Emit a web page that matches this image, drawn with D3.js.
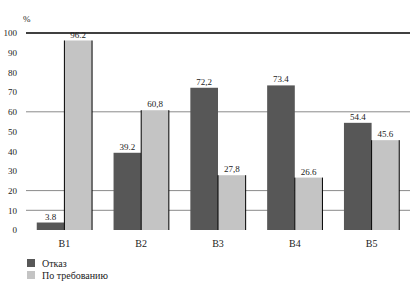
<!DOCTYPE html>
<html>
<head>
<meta charset="utf-8">
<script src="https://cdn.jsdelivr.net/npm/d3@7"></script>
<style>
	body { margin: 0; background: #fff; }
</style>
</head>
<body>
<svg id="chart" width="420" height="294"></svg>
<script>
//chart data
var categories = ["B1","B2","B3","B4","B5"];
var seriesNames = ["Отказ","По требованию"];
var refusal = [3.8,39.2,72.2,73.4,54.4];
var onDemand = [96.2,60.8,27.8,26.6,45.6];
var refusalLabels = ["3.8","39.2","72,2","73.4","54.4"];
var onDemandLabels = ["96.2","60,8","27,8","26.6","45.6"];
var yTicks = [0,10,20,30,40,50,60,70,80,90,100];
var gridValues = [10,20,60];

var colors = ["#575757","#c4c4c4"];
var FONT = "Liberation Serif";

var svg = d3.select("#chart");
var margin = {left: 26, right: 10, top: 33, bottom: 64};
var width = 420 - margin.left - margin.right;
var height = 294 - margin.top - margin.bottom;

var g = svg.append("g").attr("transform","translate("+margin.left+","+margin.top+")");

var x = d3.scaleBand().domain(categories).range([0,width]).paddingInner(0).paddingOuter(0);
var x1 = d3.scaleBand().domain([0,1]).range([x.bandwidth()*0.14,x.bandwidth()*0.86]).padding(0);
var y = d3.scaleLinear().domain([0,100]).range([height,0]);

//grid lines
g.selectAll("line.grid")
	.data(gridValues)
	.enter().append("line")
	.attr("class","grid")
	.attr("x1",0).attr("x2",width)
	.attr("y1",function(d) {return y(d);})
	.attr("y2",function(d) {return y(d);})
	.attr("stroke","#8a8a8a").attr("stroke-width",1);

g.append("line")
	.attr("x1",0).attr("x2",width)
	.attr("y1",y(100)).attr("y2",y(100))
	.attr("stroke","#000").attr("stroke-width",1.5);

//y axis labels
var yAxis = d3.axisLeft(y).tickValues(yTicks).tickSize(0).tickPadding(9);
g.append("g").call(yAxis)
	.attr("font-family",FONT)
	.attr("font-size",9)
	.call(function(s) {s.select(".domain").remove();})
	.selectAll("text")
	.attr("fill","#222");

g.append("text").attr("x",-3).attr("y",-11)
	.attr("font-family",FONT).attr("font-size",9).attr("fill","#222").text("%");

//x axis labels
var xAxis = d3.axisBottom(x).tickSize(0).tickPadding(10);
g.append("g").attr("transform","translate(0,"+height+")").call(xAxis)
	.attr("font-family",FONT)
	.attr("font-size",10)
	.call(function(s) {s.select(".domain").remove();})
	.selectAll("text")
	.attr("fill","#222");

//bars
var rows = categories.map(function(c,i) {
	return {cat: c, vals: [refusal[i],onDemand[i]], labels: [refusalLabels[i],onDemandLabels[i]]};
});

var groups = g.selectAll("g.grp").data(rows).enter().append("g")
	.attr("class","grp")
	.attr("transform",function(d) {return "translate("+x(d.cat)+",0)";});

groups.selectAll("rect")
	.data(function(d) {return d.vals;})
	.enter().append("rect")
	.attr("x",function(d,i) {return x1(i);})
	.attr("y",function(d) {return y(d);})
	.attr("width",x1.bandwidth())
	.attr("height",function(d) {return height - y(d);})
	.attr("fill",function(d,i) {return colors[i];});

//black edges around the light bars
groups.each(function(d) {
	var grp = d3.select(this);
	var top = y(d.vals[1]);
	[x1(1), x1(1)+x1.bandwidth()].forEach(function(px) {
		grp.append("line")
			.attr("x1",px).attr("x2",px)
			.attr("y1",top).attr("y2",height)
			.attr("stroke","#000").attr("stroke-width",1);
	});
});

groups.selectAll("text.val")
	.data(function(d) {return d.vals.map(function(v,i) {return {v: v, l: d.labels[i], i: i};});})
	.enter().append("text")
	.attr("class","val")
	.attr("x",function(d) {return x1(d.i)+x1.bandwidth()/2;})
	.attr("y",function(d) {return y(d.v)-3;})
	.attr("text-anchor","middle")
	.attr("font-family",FONT)
	.attr("font-size",9)
	.attr("fill","#222")
	.text(function(d) {return d.l;});

//legend
var legend = svg.append("g").attr("transform","translate(27,259)");
seriesNames.forEach(function(name,i) {
	legend.append("rect").attr("x",0).attr("y",i*12).attr("width",8).attr("height",8).attr("fill",colors[i]);
	legend.append("text").attr("x",15).attr("y",i*12+8)
		.attr("font-family",FONT).attr("font-size",10).attr("fill","#222").text(name);
});
</script>
</body>
</html>
